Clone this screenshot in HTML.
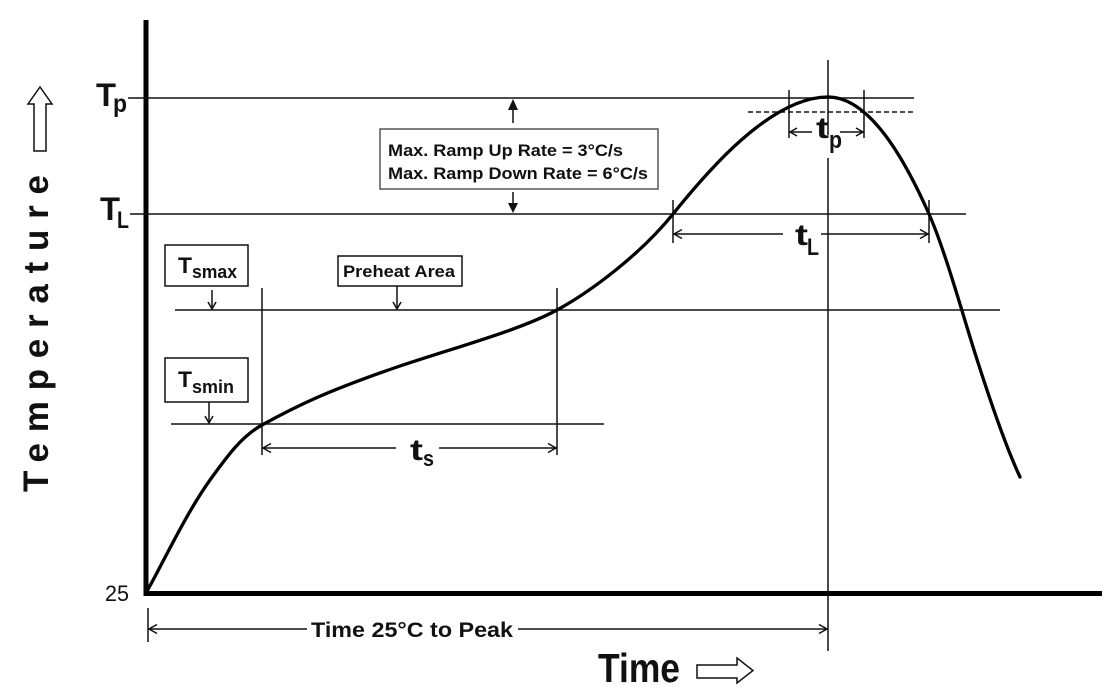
<!DOCTYPE html>
<html>
<head>
<meta charset="utf-8">
<style>
  html,body{margin:0;padding:0;background:#fff;}
  svg{display:block;}
  text{font-family:"Liberation Sans", Arial, sans-serif;fill:#111;}
</style>
</head>
<body>
<svg width="1116" height="700" viewBox="0 0 1116 700" xmlns="http://www.w3.org/2000/svg">
  <rect x="0" y="0" width="1116" height="700" fill="#fff"/>

  <!-- Axes -->
  <line x1="146" y1="20" x2="146" y2="596" stroke="#000" stroke-width="5"/>
  <line x1="144" y1="593.5" x2="1102" y2="593.5" stroke="#000" stroke-width="5"/>

  <g stroke="#111" stroke-width="1.5" fill="none">
    <!-- horizontal reference lines -->
    <line x1="128" y1="98" x2="914" y2="98"/>
    <line x1="130" y1="214" x2="966" y2="214"/>
    <line x1="175" y1="310" x2="1000" y2="310"/>
    <line x1="171" y1="424" x2="604" y2="424"/>
    <line x1="748" y1="112" x2="914" y2="112" stroke-dasharray="5,3"/>

    <!-- peak vertical -->
    <line x1="828" y1="60" x2="828" y2="135"/>
    <line x1="828" y1="158" x2="828" y2="651"/>

    <!-- tp -->
    <line x1="789" y1="90" x2="789" y2="138"/>
    <line x1="864" y1="90" x2="864" y2="138"/>
    <line x1="789" y1="132" x2="812" y2="132"/>
    <polyline points="797,128 790,132 797,136"/>
    <line x1="840" y1="132" x2="864" y2="132"/>
    <polyline points="856,128 863,132 856,136"/>

    <!-- tL -->
    <line x1="673" y1="200" x2="673" y2="243"/>
    <line x1="929" y1="200" x2="929" y2="243"/>
    <line x1="673" y1="234" x2="783" y2="234"/>
    <polyline points="682,229.5 674,234 682,238.5"/>
    <line x1="821" y1="234" x2="929" y2="234"/>
    <polyline points="920,229.5 928,234 920,238.5"/>

    <!-- ts -->
    <line x1="262" y1="288" x2="262" y2="455"/>
    <line x1="557" y1="288" x2="557" y2="455"/>
    <line x1="262" y1="448" x2="396" y2="448"/>
    <polyline points="271,443.5 263,448 271,452.5"/>
    <line x1="439" y1="448" x2="557" y2="448"/>
    <polyline points="548,443.5 556,448 548,452.5"/>

    <!-- Time 25C to peak -->
    <line x1="148" y1="608" x2="148" y2="642"/>
    <line x1="148" y1="629" x2="307" y2="629"/>
    <polyline points="157,624.5 149,629 157,633.5"/>
    <line x1="518" y1="629" x2="828" y2="629"/>
    <polyline points="819,624.5 827,629 819,633.5"/>

    <!-- boxes -->
    <rect x="165" y="245" width="83" height="41"/>
    <rect x="165" y="358" width="83" height="44"/>
    <rect x="338" y="256" width="124" height="30"/>
    <rect x="380" y="129" width="278" height="60" stroke="#555"/>

    <!-- small down arrows -->
    <line x1="212" y1="290" x2="212" y2="309"/>
    <polyline points="208,302 212,309 216,302"/>
    <line x1="397" y1="286" x2="397" y2="309"/>
    <polyline points="393,302 397,309 401,302"/>
    <line x1="209" y1="402" x2="209" y2="423"/>
    <polyline points="205,416 209,423 213,416"/>

    <!-- ramp arrows -->
    <line x1="513" y1="108" x2="513" y2="123"/>
    <line x1="513" y1="192" x2="513" y2="204"/>
  </g>
  <polygon points="508,110 513,99 518,110" fill="#111"/>
  <polygon points="508,203 513,213 518,203" fill="#111"/>

  <!-- Curve -->
  <path d="M146,593 C162,565 185,515 210,480 C228,455 242,436 262,425 C300,404 330,390 400,366 C460,346 520,330 557,310 C590,292 640,255 673,214 C706,173 770,97 828,97 C870,97 905,160 929,214 C944,248 960,305 974,350 C986,388 1005,445 1020,477"
        fill="none" stroke="#000" stroke-width="3.3" stroke-linecap="round" stroke-linejoin="round"/>

  <!-- Axis labels -->
  <text transform="translate(48,492) rotate(-90)" font-size="35" font-weight="bold" textLength="317" lengthAdjust="spacing">Temperature</text>
  <polygon points="34,151 46,151 46,104 52,104 40,87 28,104 34,104" fill="#fff" stroke="#111" stroke-width="1.5"/>

  <text x="598" y="682" font-size="41" font-weight="bold" textLength="82" lengthAdjust="spacingAndGlyphs">Time</text>
  <polygon points="697,665 737,665 737,658 753,670.5 737,683 737,678 697,678" fill="#fff" stroke="#111" stroke-width="1.5"/>

  <!-- Y labels -->
  <text x="96" y="106" font-size="32" font-weight="bold" textLength="20" lengthAdjust="spacingAndGlyphs">T</text>
  <text x="113" y="112" font-size="25" font-weight="bold" textLength="14" lengthAdjust="spacingAndGlyphs">p</text>
  <text x="100" y="220" font-size="32" font-weight="bold" textLength="20" lengthAdjust="spacingAndGlyphs">T</text>
  <text x="117" y="228" font-size="24" font-weight="bold" textLength="12" lengthAdjust="spacingAndGlyphs">L</text>
  <text x="105" y="601" font-size="22" textLength="24" lengthAdjust="spacingAndGlyphs">25</text>

  <!-- box texts -->
  <text x="178" y="273" font-size="22" font-weight="bold" textLength="14" lengthAdjust="spacingAndGlyphs">T</text>
  <text x="192" y="278" font-size="18" font-weight="bold" textLength="45" lengthAdjust="spacingAndGlyphs">smax</text>
  <text x="178" y="387" font-size="22" font-weight="bold" textLength="14" lengthAdjust="spacingAndGlyphs">T</text>
  <text x="192" y="393" font-size="18" font-weight="bold" textLength="42" lengthAdjust="spacingAndGlyphs">smin</text>
  <text x="343" y="277" font-size="17" font-weight="bold" textLength="112" lengthAdjust="spacingAndGlyphs">Preheat Area</text>
  <text x="388" y="156" font-size="17" font-weight="bold" fill="#222" textLength="235" lengthAdjust="spacingAndGlyphs">Max. Ramp Up Rate = 3°C/s</text>
  <text x="388" y="179" font-size="17" font-weight="bold" fill="#222" textLength="260" lengthAdjust="spacingAndGlyphs">Max. Ramp Down Rate = 6°C/s</text>

  <!-- dimension labels -->
  <text x="816" y="138" font-size="30" font-weight="bold" textLength="13" lengthAdjust="spacingAndGlyphs">t</text>
  <text x="829" y="148" font-size="24" font-weight="bold" textLength="13" lengthAdjust="spacingAndGlyphs">p</text>
  <text x="795" y="245" font-size="30" font-weight="bold" textLength="13" lengthAdjust="spacingAndGlyphs">t</text>
  <text x="807" y="255" font-size="24" font-weight="bold" textLength="12" lengthAdjust="spacingAndGlyphs">L</text>
  <text x="410" y="460" font-size="30" font-weight="bold" textLength="13" lengthAdjust="spacingAndGlyphs">t</text>
  <text x="423" y="466" font-size="22" font-weight="bold" textLength="11" lengthAdjust="spacingAndGlyphs">s</text>

  <text x="311" y="637" font-size="21" font-weight="bold" textLength="202" lengthAdjust="spacingAndGlyphs">Time 25°C to Peak</text>
</svg>
</body>
</html>
